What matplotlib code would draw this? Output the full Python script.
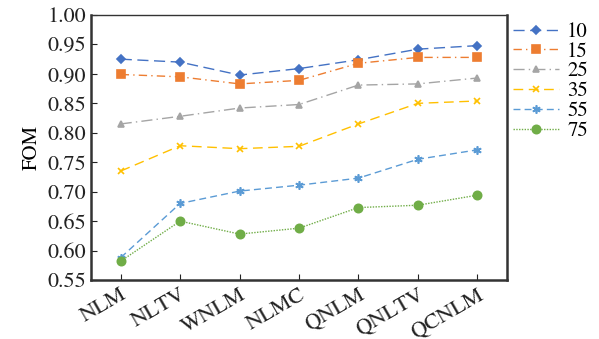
import matplotlib.pyplot as plt
import numpy as np

plt.rcParams['font.family'] = ['TeX Gyre Termes', 'STIXGeneral', 'DejaVu Serif']

methods = ['NLM', 'NLTV', 'WNLM', 'NLMC', 'QNLM', 'QNLTV', 'QCNLM']
series_names = ['10', '15', '25', '35', '55', '75']

fom_10 = [0.925, 0.920, 0.898, 0.909, 0.924, 0.942, 0.948]
fom_15 = [0.899, 0.895, 0.883, 0.889, 0.918, 0.928, 0.928]
fom_25 = [0.815, 0.828, 0.842, 0.848, 0.881, 0.883, 0.893]
fom_35 = [0.735, 0.778, 0.773, 0.777, 0.815, 0.850, 0.854]
fom_55 = [0.588, 0.680, 0.701, 0.711, 0.723, 0.755, 0.771]
fom_75 = [0.582, 0.650, 0.628, 0.638, 0.673, 0.677, 0.694]

all_series = [fom_10, fom_15, fom_25, fom_35, fom_55, fom_75]
colors = ['#4472C4', '#ED7D31', '#A5A5A5', '#FFC000', '#5B9BD5', '#70AD47']
markers = ['D', 's', '^', 'x', (6, 2, 0), 'o']
msizes = [4, 5.5, 5, 5, 6, 6]
dashes = [(8, 4), (6, 3, 1, 3), (8, 3, 1, 3), (7, 4), (5, 3), (1, 1)]

fig = plt.figure(figsize=(5.99, 3.39), dpi=100)
ax = fig.add_axes([91 / 599, 1 - 280 / 339, 416 / 599, 265 / 339])

x = np.arange(len(methods))
for vals, name, c, m, ms, d in zip(all_series, series_names, colors, markers, msizes, dashes):
    ax.plot(x, vals, color=c, marker=m, markersize=ms, linewidth=1.0,
            dashes=d, label=name, markeredgewidth=1.2)

ax.set_xlim(-0.5, 6.5)
ax.set_ylim(0.55, 1.00)
ax.set_yticks(np.arange(0.55, 1.001, 0.05))
ax.set_yticklabels(['%.2f' % v for v in np.arange(0.55, 1.001, 0.05)])
ax.set_xticks(x)
ax.set_xticklabels(methods, rotation=30, ha='right', rotation_mode='anchor')
ax.tick_params(direction='in', labelsize=16, length=4, colors='#222222')
ax.set_ylabel('FOM', fontsize=15)

ax.spines['left'].set_linewidth(1.8)
ax.spines['bottom'].set_linewidth(1.8)
ax.spines['top'].set_linewidth(1.0)
ax.spines['right'].set_linewidth(1.8)
for s in ax.spines.values():
    s.set_color('#333333')

fig.legend(loc='upper left', bbox_to_anchor=(513 / 599, 1 - 22 / 339), frameon=False,
           fontsize=15, handlelength=2.2, handletextpad=0.4,
           labelspacing=0.0, borderpad=0, borderaxespad=0)

fig.savefig('out.png', dpi=100)
